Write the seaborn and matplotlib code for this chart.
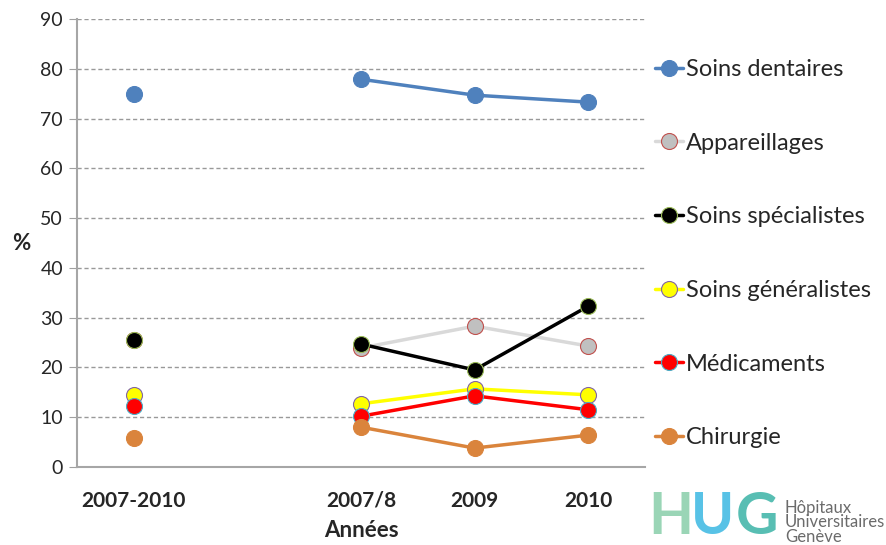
import matplotlib
matplotlib.use("Agg")
import matplotlib.pyplot as plt
import seaborn as sns
import pandas as pd
import numpy as np

categories = ["2007-2010", "", "2007/8", "2009", "2010"]
series_names = ["Soins dentaires", "Appareillages", "Soins spécialistes",
                "Soins généralistes", "Médicaments", "Chirurgie"]
soins_dentaires = [75.0, None, 77.9, 74.7, 73.3]
appareillages = [25.5, None, 23.9, 28.3, 24.3]
soins_specialistes = [25.5, None, 24.7, 19.5, 32.3]
soins_generalistes = [14.5, None, 12.7, 15.7, 14.5]
medicaments = [12.3, None, 10.2, 14.3, 11.5]
chirurgie = [5.8, None, 8.0, 3.8, 6.4]
yticks = [0, 10, 20, 30, 40, 50, 60, 70, 80, 90]

values = [soins_dentaires, appareillages, soins_specialistes,
          soins_generalistes, medicaments, chirurgie]
line_colors = ["#4F81BD", "#D9D9D9", "#000000", "#FFFF00", "#FF0000", "#DA843C"]
face_colors = ["#4F81BD", "#C0C0C0", "#000000", "#FFFF00", "#FF0000", "#DA843C"]
edge_colors = ["#4F81BD", "#C0504D", "#9BBB59", "#8064A2", "#4BACC6", "#DA843C"]

sns.set_style("white")
plt.rcParams["font.family"] = ["Lato", "DejaVu Sans"]

fig = plt.figure(figsize=(8.87, 5.45), dpi=100)
ax = fig.add_axes([77/887, 1-467/545, (645-77)/887, (467-19)/545])

for name, vals, lc, fc, ec in zip(series_names, values, line_colors, face_colors, edge_colors):
    df = pd.DataFrame({"x": np.arange(len(categories)), "y": vals}).dropna()
    connected = df[df["x"] >= 2]
    single = df[df["x"] < 2]
    sns.lineplot(data=connected, x="x", y="y", ax=ax, color=lc, linewidth=2.5,
                 marker="o", markersize=11.5, markerfacecolor=fc,
                 markeredgecolor=ec, markeredgewidth=0.8, label=name)
    sns.lineplot(data=single, x="x", y="y", ax=ax, color=lc, linewidth=0,
                 marker="o", markersize=11.5, markerfacecolor=fc,
                 markeredgecolor=ec, markeredgewidth=0.8, legend=False)

ax.set_xlim(-0.5, 4.5)
ax.set_ylim(0, 90)
ax.set_yticks(yticks)
ax.set_yticklabels([str(v) for v in yticks], fontsize=14)
ax.set_xticks(range(len(categories)))
ax.set_xticklabels(categories, fontsize=15, fontweight="bold")
ax.set_xticks(np.arange(0.5, len(categories), 1), minor=True)
ax.tick_params(axis="x", which="major", length=0, pad=17)
ax.tick_params(axis="x", which="minor", length=6, color="#A0A0A0", direction="out")
ax.tick_params(axis="y", length=6, color="#A0A0A0", direction="out", pad=4, left=True)
ax.yaxis.grid(True, linestyle=(0, (3, 2)), color="#999999", linewidth=1)
ax.xaxis.grid(False)
for s in ["top", "right"]:
    ax.spines[s].set_visible(False)
for s in ["left", "bottom"]:
    ax.spines[s].set_color("#A6A6A6")
    ax.spines[s].set_linewidth(1.5)

ax.set_xlabel("Années", fontsize=16, fontweight="bold", labelpad=7)
ax.set_ylabel("%", fontsize=16, fontweight="bold", rotation=0, labelpad=14, va="center")

leg = ax.legend(loc="upper left", bbox_to_anchor=(655/887, 1-59/545),
                bbox_transform=fig.transFigure, frameon=False, fontsize=17,
                handlelength=1.2, handletextpad=0.1, labelspacing=2.23,
                borderaxespad=0, borderpad=0)

# HUG logo approximation
fig.text(648/887, 1-544/545, "H", fontsize=42, fontweight="bold", color="#8FD1AE",
         alpha=0.9, va="bottom", ha="left")
fig.text(691/887, 1-544/545, "U", fontsize=42, fontweight="bold", color="#2EB3E0",
         alpha=0.8, va="bottom", ha="left")
fig.text(736/887, 1-544/545, "G", fontsize=42, fontweight="bold", color="#3BB3A6",
         alpha=0.85, va="bottom", ha="left")
fig.text(785/887, 1-545/545, "Hôpitaux\nUniversitaires\nGenève", fontsize=12,
         color="#6B6B6B", va="bottom", ha="left", linespacing=0.9)

fig.savefig("out.png", dpi=100)
